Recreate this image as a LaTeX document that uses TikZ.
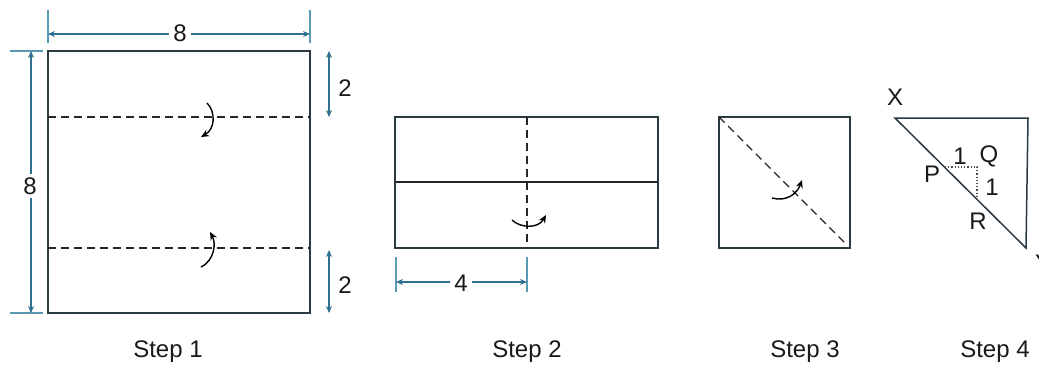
\documentclass[tikz,border=0pt]{standalone}
\usepackage{fontspec}
\setmainfont{Liberation Sans}
\usetikzlibrary{arrows.meta}
\definecolor{dimc}{HTML}{2F6F8F}
\definecolor{extc}{HTML}{5A9AB5}
\definecolor{boxc}{HTML}{2B3A42}
\tikzset{
  box/.style={draw=boxc,line width=1.5pt},
  fold/.style={draw=black!85,line width=1.4pt,dash pattern=on 8pt off 5pt},
  crease/.style={draw=black!85,line width=1.3pt},
  dimline/.style={draw=dimc,line width=1.4pt,{Stealth[length=7pt,width=6pt]}-{Stealth[length=7pt,width=6pt]}},
  extline/.style={draw=extc,line width=1.5pt},
  turn/.style={draw=black,line width=1.4pt,-{Stealth[length=8pt,width=7pt]}},
  lbl/.style={font=\fontsize{24}{26}\selectfont,text=black!90,inner sep=2pt},
  dimlbl/.style={lbl,fill=white,inner sep=4pt},
  steplbl/.style={font=\fontsize{24}{26}\selectfont,text=black!90}
}
\begin{document}
\begin{tikzpicture}[x=1pt,y=-1pt]
\useasboundingbox (0,0) rectangle (1039,367);
% ---------- Step 1 ----------
\coordinate (s1tl) at (48,51);
\coordinate (s1br) at (310,313);
\draw[box] (s1tl) rectangle (s1br);
\coordinate (f1a) at (48,117); \coordinate (f1b) at (310,117);
\coordinate (f2a) at (48,248); \coordinate (f2b) at (310,248);
\draw[fold] (f1a) -- (f1b);
\draw[fold] (f2a) -- (f2b);
% top dimension
\coordinate (e1t) at (48,10); \coordinate (e1b) at (48,43);
\coordinate (e2t) at (310,10); \coordinate (e2b) at (310,43);
\draw[extline] (e1t) -- (e1b);
\draw[extline] (e2t) -- (e2b);
\coordinate (d1a) at (48,34); \coordinate (d1b) at (310,34);
\draw[dimline] (d1a) -- (d1b);
\node[dimlbl] (n8t) at (180,33) {8};
% left dimension
\coordinate (e3l) at (10,51); \coordinate (e3r) at (43,51);
\coordinate (e4l) at (10,313); \coordinate (e4r) at (43,313);
\draw[extline] (e3l) -- (e3r);
\draw[extline] (e4l) -- (e4r);
\coordinate (d2a) at (31,51); \coordinate (d2b) at (31,313);
\draw[dimline] (d2a) -- (d2b);
\node[dimlbl] (n8l) at (30,186) {8};
% right dimensions
\coordinate (d3a) at (329,51); \coordinate (d3b) at (329,117);
\draw[dimline] (d3a) -- (d3b);
\node[lbl] (n2a) at (345,88) {2};
\coordinate (d4a) at (329,250); \coordinate (d4b) at (329,313);
\draw[dimline] (d4a) -- (d4b);
\node[lbl] (n2b) at (345,285) {2};
% turn arrows
\coordinate (t1s) at (207,103); \coordinate (t1e) at (201,137);
\draw[turn] (t1s) .. controls (216,112) and (215,129) .. (t1e);
\coordinate (t2s) at (201,267); \coordinate (t2e) at (210,232);
\draw[turn] (t2s) .. controls (215,260) and (216,243) .. (t2e);
\node[steplbl] (step1) at (168,352) {Step 1};
% ---------- Step 2 ----------
\coordinate (s2tl) at (395,117);
\coordinate (s2br) at (658,248);
\draw[box] (s2tl) rectangle (s2br);
\coordinate (c2l) at (395,182); \coordinate (c2r) at (658,182);
\draw[crease] (c2l) -- (c2r);
\coordinate (v2t) at (527,117); \coordinate (v2b) at (527,248);
\draw[fold] (v2t) -- (v2b);
\coordinate (t3s) at (512,220); \coordinate (t3e) at (546,215);
\draw[turn] (t3s) .. controls (520,228) and (538,229) .. (t3e);
\coordinate (e5t) at (396,257); \coordinate (e5b) at (396,292);
\coordinate (e6t) at (527,257); \coordinate (e6b) at (527,292);
\draw[extline] (e5t) -- (e5b);
\draw[extline] (e6t) -- (e6b);
\coordinate (d5a) at (396,282); \coordinate (d5b) at (527,282);
\draw[dimline] (d5a) -- (d5b);
\node[dimlbl] (n4) at (461,283) {4};
\node[steplbl] (step2) at (527,352) {Step 2};
% ---------- Step 3 ----------
\coordinate (s3tl) at (719,117);
\coordinate (s3br) at (850,248);
\draw[box] (s3tl) rectangle (s3br);
\coordinate (g3e) at (846,244);
\draw[fold] (s3tl) -- (g3e);
\coordinate (t4s) at (772,198); \coordinate (t4e) at (802,180);
\draw[turn] (t4s) .. controls (786,202) and (797,194) .. (t4e);
\node[steplbl] (step3) at (805,352) {Step 3};
% ---------- Step 4 ----------
\coordinate (X) at (895,118);
\coordinate (TR) at (1028,118);
\coordinate (Y) at (1026,248);
\draw[box,line join=miter] (X) -- (TR) -- (Y) -- cycle;
\coordinate (P) at (945,167);
\coordinate (Q) at (977,167);
\coordinate (R) at (977,199);
\draw[draw=black!70,line width=1.2pt,dotted] (P) -- (Q) -- (R);
\node[lbl] (lX) at (895,97) {X};
\node[lbl] (lY) at (1043,263) {Y};
\node[lbl] (lP) at (932,174) {P};
\node[lbl] (lQ) at (989,156) {Q};
\node[lbl] (lR) at (978,221) {R};
\node[lbl] (l1a) at (960,156) {1};
\node[lbl] (l1b) at (992,187) {1};
\node[steplbl] (step4) at (995,352) {Step 4};
\end{tikzpicture}
\end{document}
